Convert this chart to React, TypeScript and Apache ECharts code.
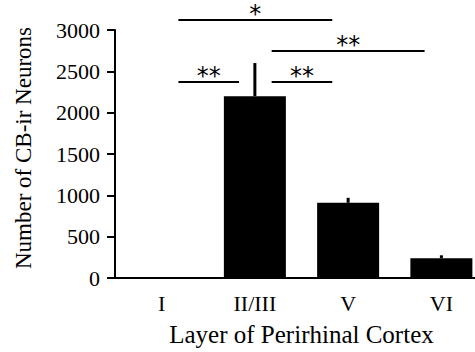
import React, { useEffect, useRef } from "react";
import * as echarts from "echarts";

const categories = ["I", "II/III", "V", "VI"];
const means = [0, 2200, 910, 240];
const errors = [0, 400, 60, 35];
const yTicks = { min: 0, max: 3000, interval: 500 };
// significance brackets (positions in category units)
const sigFrom = [0.18, 1.18, 0.18, 1.18];
const sigTo = [1.83, 2.82, 0.83, 1.83];
const sigY = [3120, 2745, 2370, 2370];
const sigLabel = ["*", "**", "**", "**"];

const SERIF = "'Liberation Serif', 'Times New Roman', serif";

export default function App() {
  const ref = useRef<HTMLDivElement>(null);
  useEffect(() => {
    if (!ref.current) return;
    const chart = echarts.init(ref.current, null, { renderer: "svg" });
    const catPx = (api: any, v: number, y: number) => {
      const i = Math.floor(v);
      const frac = v - i;
      const p = api.coord([i, y]);
      const band = api.size([1, 0])[0];
      return [p[0] + frac * band, p[1]];
    };
    chart.setOption({
      animation: false,
      grid: { left: 115, right: 0, top: 30, bottom: 74 },
      xAxis: {
        type: "category",
        data: categories,
        axisLine: { lineStyle: { color: "#000", width: 2 } },
        axisTick: { show: false },
        splitLine: { show: false },
        axisLabel: { color: "#000", fontSize: 22, fontFamily: SERIF, margin: 14 },
        name: "Layer of Perirhinal Cortex",
        nameLocation: "middle",
        nameGap: 44,
        nameTextStyle: { color: "#000", fontSize: 25, fontFamily: SERIF },
      },
      yAxis: {
        type: "value",
        min: yTicks.min,
        max: yTicks.max,
        interval: yTicks.interval,
        splitLine: { show: false },
        axisLine: { show: true, lineStyle: { color: "#000", width: 2 } },
        axisTick: { show: true, length: 8, lineStyle: { color: "#000", width: 2 } },
        axisLabel: {
          color: "#000",
          fontSize: 22,
          fontFamily: SERIF,
          margin: 15,
          formatter: (v: number) => String(v),
        },
        name: "Number of CB-ir Neurons",
        nameLocation: "middle",
        nameGap: 80,
        nameTextStyle: { color: "#000", fontSize: 23, fontFamily: SERIF, padding: [0, 0, 0, 12] },
      },
      series: [
        {
          type: "bar",
          data: means,
          barWidth: 62,
          itemStyle: { color: "#000" },
        },
        {
          type: "custom",
          data: means.map((m, i) => [i, m, m + errors[i]]),
          encode: { x: 0, y: [1, 2] },
          renderItem: (params: any, api: any) => {
            const x = api.value(0);
            const p1 = api.coord([x, api.value(1)]);
            const p2 = api.coord([x, api.value(2)]);
            return {
              type: "line",
              shape: { x1: p1[0], y1: p1[1], x2: p2[0], y2: p2[1] },
              style: { stroke: "#000", lineWidth: 3 },
            };
          },
          z: 3,
        },
        {
          type: "custom",
          clip: false,
          data: sigFrom.map((f, i) => [f, sigTo[i], sigY[i]]),
          encode: { y: 2 },
          renderItem: (params: any, api: any) => {
            const a = catPx(api, sigFrom[params.dataIndex], api.value(2));
            const b = catPx(api, sigTo[params.dataIndex], api.value(2));
            const label = sigLabel[params.dataIndex];
            return {
              type: "group",
              children: [
                {
                  type: "line",
                  shape: { x1: a[0], y1: a[1], x2: b[0], y2: b[1] },
                  style: { stroke: "#000", lineWidth: 2 },
                },
                {
                  type: "text",
                  x: (a[0] + b[0]) / 2,
                  y: a[1] - 18,
                  style: {
                    text: label,
                    fill: "#000",
                    fontSize: 24,
                    fontFamily: "'DejaVu Sans', sans-serif",
                    align: "center",
                    verticalAlign: "top",
                  },
                },
              ],
            };
          },
        },
      ],
    });
    return () => chart.dispose();
  }, []);
  return (
    <div
      style={{
        position: "absolute",
        left: 0,
        top: 0,
        width: 475,
        height: 352,
        overflow: "hidden",
      }}
    >
      <div ref={ref} style={{ width: 488, height: 352 }} />
    </div>
  );
}
